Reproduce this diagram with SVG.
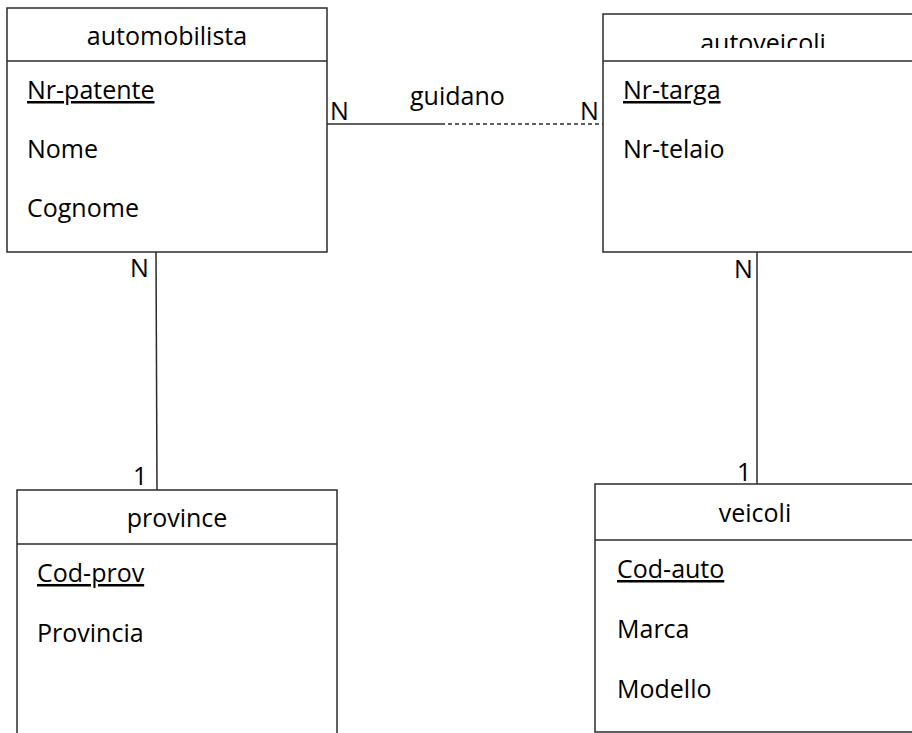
<svg xmlns="http://www.w3.org/2000/svg" width="912" height="733" viewBox="0 0 912 733">
<style>
.box{fill:#fff;stroke:#2b2b2b;stroke-width:1.5}
.ln{stroke:#2b2b2b;stroke-width:1.5;fill:none}
.t{font-family:"Open Sans","Noto Sans",sans-serif;font-size:25px;fill:#000}
.c{text-anchor:middle}
.u{text-decoration:underline}
</style>
<defs>
<clipPath id="clipAv"><rect x="603" y="0" width="320" height="48"/></clipPath>
</defs>
<rect width="912" height="733" fill="#fff"/>
<g id="connectors">
<line class="ln" x1="327" y1="124" x2="441" y2="124"/>
<line class="ln" x1="441" y1="124" x2="603" y2="124" stroke-dasharray="4 3"/>
<line class="ln" x1="156" y1="252" x2="157" y2="490"/>
<line class="ln" x1="757" y1="252" x2="757" y2="484"/>
<text class="t" x="330" y="120">N</text>
<text class="t" x="410" y="105">guidano</text>
<text class="t" x="580" y="120">N</text>
<text class="t" x="130" y="277">N</text>
<text class="t" x="133" y="485">1</text>
<text class="t" x="734" y="278">N</text>
<text class="t" x="737" y="481">1</text>
</g>
<g id="automobilista">
<rect class="box" x="7" y="8" width="320" height="244"/>
<line class="ln" x1="7" y1="61" x2="327" y2="61"/>
<text class="t c" x="167" y="45">automobilista</text>
<text class="t u" x="27" y="99">Nr-patente</text>
<text class="t" x="27" y="158">Nome</text>
<text class="t" x="27" y="217">Cognome</text>
</g>
<g id="autoveicoli">
<rect class="box" x="603" y="14" width="330" height="238"/>
<line class="ln" x1="603" y1="61" x2="933" y2="61"/>
<text class="t c" x="763" y="52" clip-path="url(#clipAv)">autoveicoli</text>
<text class="t u" x="623" y="99">Nr-targa</text>
<text class="t" x="623" y="158">Nr-telaio</text>
</g>
<g id="province">
<rect class="box" x="17" y="490" width="320" height="260"/>
<line class="ln" x1="17" y1="544" x2="337" y2="544"/>
<text class="t c" x="177" y="527">province</text>
<text class="t u" x="37" y="582">Cod-prov</text>
<text class="t" x="37" y="642">Provincia</text>
</g>
<g id="veicoli">
<rect class="box" x="595" y="484" width="330" height="248"/>
<line class="ln" x1="595" y1="540" x2="925" y2="540"/>
<text class="t c" x="755" y="522">veicoli</text>
<text class="t u" x="617" y="578">Cod-auto</text>
<text class="t" x="617" y="638">Marca</text>
<text class="t" x="617" y="698">Modello</text>
</g>
</svg>
